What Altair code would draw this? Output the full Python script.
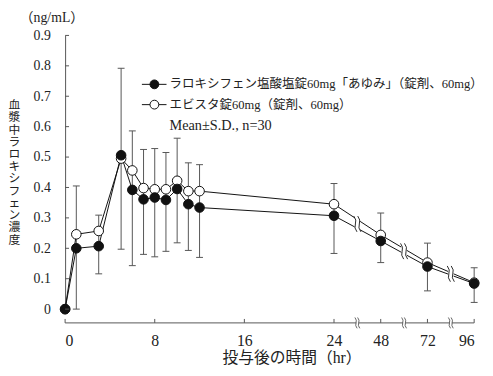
import altair as alt
import pandas as pd

# ---- data ----
times = [0, 1, 3, 5, 6, 7, 8, 9, 10, 11, 12, 24, 48, 72, 96]
filled_mean = [0.0, 0.200, 0.207, 0.506, 0.392, 0.361, 0.367, 0.359, 0.395, 0.345, 0.334, 0.307, 0.224, 0.140, 0.084]
open_mean = [0.0, 0.246, 0.257, 0.495, 0.456, 0.398, 0.394, 0.394, 0.422, 0.388, 0.388, 0.345, 0.244, 0.153, 0.087]
err_high = [None, 0.405, 0.309, 0.792, 0.586, 0.525, 0.528, 0.515, 0.562, 0.481, 0.475, 0.413, 0.316, 0.217, 0.136]
err_low = [None, 0.000, 0.116, 0.197, 0.143, 0.180, 0.172, 0.190, 0.218, 0.193, 0.170, 0.183, 0.153, 0.060, 0.022]
x_ticks = [0, 8, 16, 24, 48, 72, 96]
y_ticks = [0, 0.1, 0.2, 0.3, 0.4, 0.5, 0.6, 0.7, 0.8, 0.9]
series_names = ["ラロキシフェン塩酸塩錠60mg「あゆみ」（錠剤、60mg）", "エビスタ錠60mg（錠剤、60mg）"]
series_fill = ["#111111", "white"]
note_text = "Mean±S.D., n=30"
y_title = "血漿中ラロキシフェン濃度"
x_title = "投与後の時間（hr）"
unit_text = "（ng/mL）"

# ---- broken time scale: linear to 24 h, then compressed segments ----
SEG = 4.17  # axis units per 24 h after the break


def xpos(t):
    return t if t <= 24 else 24 + (t - 24) / 24 * SEG


W, H = 415.5, 278
AX_OFF = 14
FONT = "Liberation Serif, Noto Sans CJK JP"
XMAX = xpos(x_ticks[-1])
GRAY = "#555555"

xscale = alt.Scale(domain=[0, XMAX], nice=False, zero=False)
yscale = alt.Scale(domain=[0, 0.9], nice=False)

label_expr = ("datum.value <= 24.01 ? format(datum.value, 'd') : "
              f"format(24 + (datum.value - 24) * 24 / {SEG}, '.0f')")

x_axis = alt.Axis(
    values=[xpos(t) for t in x_ticks], labelExpr=label_expr, domain=False, ticks=False,
    grid=False, offset=AX_OFF, labelPadding=10, labelFontSize=16, labelFont=FONT,
    labelColor="#222", title=x_title, titleFont=FONT, titleFontSize=16, titleFontWeight="normal",
    titleColor="#222", titleX=230, titleY=35, titleBaseline="middle")
y_axis = alt.Axis(
    values=y_ticks, labelExpr="datum.value == 0 ? '0' : format(datum.value, '.1f')",
    ticks=False, grid=False, domainColor=GRAY, labelPadding=15, labelFontSize=14,
    labelFont=FONT, labelColor="#222", title="")


def XE(field="xp"):
    return alt.X(f"{field}:Q", scale=xscale, axis=x_axis)


def YE(field="v"):
    return alt.Y(f"{field}:Q", scale=yscale, axis=y_axis)


pts = pd.DataFrame({
    "t": times * 2,
    "xp": [xpos(t) for t in times] * 2,
    "v": filled_mean + open_mean,
    "s": ["A"] * len(times) + ["B"] * len(times),
})
err = pd.DataFrame({"xp": [xpos(t) for t in times], "lo": err_low, "hi": err_high}).dropna()

# break glyphs on the lines (midpoint between points after 24 h)
brk_rows = []
for i in range(len(times) - 1):
    if times[i] >= 24:
        mx = (xpos(times[i]) + xpos(times[i + 1])) / 2
        my = (filled_mean[i] + filled_mean[i + 1] + open_mean[i] + open_mean[i + 1]) / 4
        brk_rows.append({"xp": mx, "v": my})
brk = pd.DataFrame(brk_rows)

axbrk = pd.DataFrame({"xp": [(xpos(a) + xpos(b)) / 2 for a, b in zip(x_ticks[:-1], x_ticks[1:]) if a >= 24]})
xt = pd.DataFrame({"xp": [xpos(t) for t in x_ticks]})
yt = pd.DataFrame({"v": y_ticks})
axline = pd.DataFrame({"xp": [xpos(x_ticks[0])], "x1": [XMAX]})

RECT = "M -0.35 -1 L 0.35 -1 L 0.35 1 L -0.35 1 Z"
WAVY = "M -0.45 -1 Q -0.05 -0.5 -0.25 0 Q -0.45 0.5 -0.05 1 M 0.05 -1 Q 0.45 -0.5 0.25 0 Q 0.05 0.5 0.45 1"

eb = alt.Chart(err).mark_rule(color=GRAY, strokeWidth=1).encode(x=XE(), y=YE("lo"), y2="hi:Q")
cap_hi = alt.Chart(err).mark_rule(color=GRAY, strokeWidth=1, xOffset=-3.5, x2Offset=3.5).encode(
    x=XE(), x2="xp:Q", y=YE("hi"))
cap_lo = alt.Chart(err).mark_rule(color=GRAY, strokeWidth=1, xOffset=-3.5, x2Offset=3.5).encode(
    x=XE(), x2="xp:Q", y=YE("lo"))

lines = alt.Chart(pts).mark_line(color="#111", strokeWidth=1).encode(
    x=XE(), y=YE(), detail="s:N", order="t:Q")

brk_white = alt.Chart(brk).mark_point(shape=RECT, filled=True, fill="white", strokeWidth=0,
                                      size=256, opacity=1).encode(x=XE(), y=YE())
brk_curve = alt.Chart(brk).mark_point(shape=WAVY, filled=False, stroke="#111", strokeWidth=0.9,
                                      size=256, opacity=1).encode(x=XE(), y=YE())

p_open = alt.Chart(pts).transform_filter("datum.s == 'B'").mark_point(
    shape="circle", filled=True, fill="white", stroke="#111", strokeWidth=1, size=95, opacity=1
).encode(x=XE(), y=YE())
p_fill = alt.Chart(pts).transform_filter("datum.s == 'A'").mark_point(
    shape="circle", filled=True, fill="#111", stroke="#111", strokeWidth=1, size=95, opacity=1
).encode(x=XE(), y=YE())

# manual axis parts
x_axis_line = alt.Chart(axline).mark_rule(color=GRAY, strokeWidth=1).encode(
    x=XE(), x2="x1:Q", y=alt.value(H + AX_OFF))
x_tick_marks = alt.Chart(xt).mark_rule(color=GRAY, strokeWidth=1).encode(
    x=XE(), y=alt.value(H + AX_OFF - 4), y2=alt.value(H + AX_OFF))
y_tick_marks = alt.Chart(yt).mark_rule(color=GRAY, strokeWidth=1).encode(
    y=YE(), x=alt.value(0), x2=alt.value(4))
ax_white = alt.Chart(axbrk).mark_point(shape=RECT, filled=True, fill="white", strokeWidth=0,
                                       size=36, opacity=1).encode(x=XE(), y=alt.value(H + AX_OFF))
ax_curve = alt.Chart(axbrk).mark_point(shape=WAVY, filled=False, stroke=GRAY, strokeWidth=0.9,
                                       size=121, opacity=1).encode(x=XE(), y=alt.value(H + AX_OFF))

# manual legend
LY0, LDY = 49.7, 20.6
legend_layers = []
for i, (name, fc) in enumerate(zip(series_names, series_fill)):
    d = pd.DataFrame({"name": [name]})
    ly = LY0 + i * LDY
    legend_layers.append(alt.Chart(d).mark_rule(color="#111", strokeWidth=1).encode(
        x=alt.value(78), x2=alt.value(103), y=alt.value(ly)))
    legend_layers.append(alt.Chart(d).mark_point(
        shape="circle", filled=True, fill=fc, stroke="#111", strokeWidth=1, size=80, opacity=1
    ).encode(x=alt.value(90.7), y=alt.value(ly)))
    legend_layers.append(alt.Chart(d).mark_text(
        align="left", baseline="middle", font=FONT, fontSize=12.7, color="#222"
    ).encode(x=alt.value(106), y=alt.value(ly), text="name:N"))

note = alt.Chart(pd.DataFrame({"t": [note_text]})).mark_text(
    align="left", baseline="middle", font=FONT, fontSize=14.5, color="#222").encode(
    x=alt.value(106), y=alt.value(92), text="t:N")
unit = alt.Chart(pd.DataFrame({"t": [unit_text]})).mark_text(
    align="left", baseline="middle", font=FONT, fontSize=14, color="#222").encode(
    x=alt.value(-46), y=alt.value(-18), text="t:N")
ytitle = alt.Chart(pd.DataFrame({"t": ["\n".join(y_title)]})).mark_text(
    align="center", baseline="top", font="Noto Sans CJK JP", fontSize=12, lineHeight=12.4,
    lineBreak="\n", color="#222").encode(
    x=alt.value(-51.5), y=alt.value(66), text="t:N")

chart = alt.layer(
    eb, cap_hi, cap_lo, lines, brk_white, brk_curve, p_open, p_fill,
    x_axis_line, x_tick_marks, y_tick_marks, ax_white, ax_curve,
    *legend_layers, note, unit, ytitle,
).properties(
    width=W, height=H,
    padding={"left": 58, "top": 25, "right": 11, "bottom": 60},
    autosize=alt.AutoSizeParams(type="none"),
    background="white",
).configure_view(stroke=None)

chart.save("out.html", embed_options={"renderer": "svg", "actions": False})
